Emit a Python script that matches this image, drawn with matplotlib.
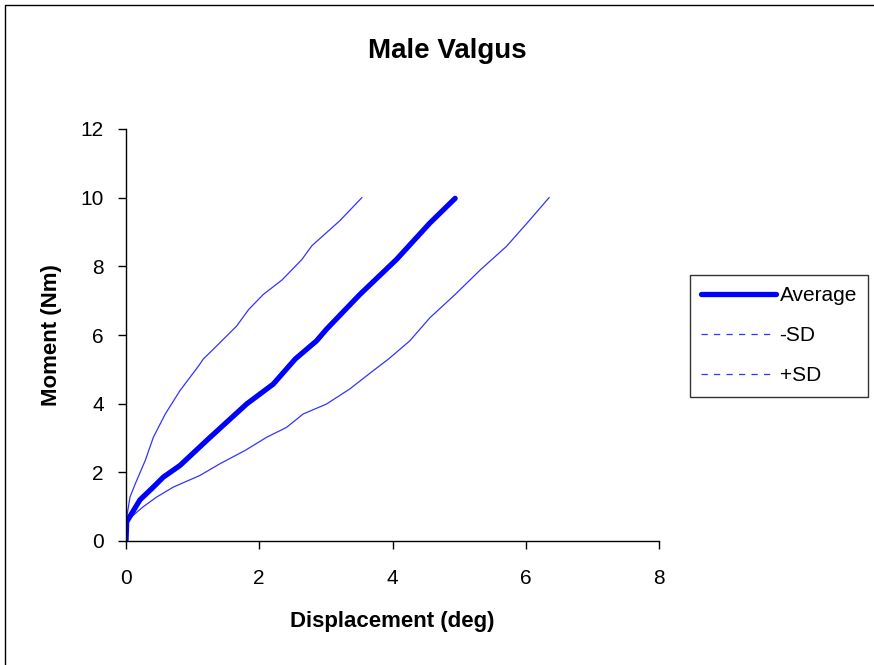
import matplotlib.pyplot as plt
from matplotlib.lines import Line2D
from matplotlib.patches import Rectangle

plt.rcParams['font.family'] = ['Liberation Sans', 'DejaVu Sans']

# curves (displacement deg, moment Nm)
avg_x = [0.0, 0.01, 0.085, 0.21, 0.41, 0.56, 0.81, 1.24, 1.81, 2.21, 2.54, 2.86,
         3.01, 3.51, 4.06, 4.56, 4.94]
avg_y = [0.0, 0.56, 0.8, 1.2, 1.57, 1.86, 2.2, 2.98, 3.99, 4.57, 5.3, 5.83,
         6.17, 7.18, 8.2, 9.26, 9.98]

minus_x = [0.0, 0.0, 0.02, 0.06, 0.14, 0.29, 0.41, 0.59, 0.81, 1.09, 1.16, 1.36,
           1.66, 1.84, 2.06, 2.34, 2.64, 2.79, 3.21, 3.54]
minus_y = [0.0, 0.56, 0.8, 1.28, 1.67, 2.35, 3.02, 3.7, 4.38, 5.1, 5.3, 5.68,
           6.26, 6.74, 7.18, 7.6, 8.2, 8.6, 9.33, 10.0]

plus_x = [0.0, 0.01, 0.085, 0.26, 0.46, 0.71, 1.11, 1.41, 1.79, 2.11, 2.41, 2.66,
          3.01, 3.36, 3.71, 3.94, 4.26, 4.56, 4.94, 5.32, 5.71, 6.02, 6.35]
plus_y = [0.0, 0.5, 0.71, 1.0, 1.28, 1.57, 1.91, 2.25, 2.64, 3.02, 3.31, 3.7,
          3.99, 4.43, 4.96, 5.3, 5.83, 6.5, 7.18, 7.9, 8.58, 9.26, 10.0]

fig = plt.figure(figsize=(8.74, 6.65), dpi=100)
ax = fig.add_axes([126/874, 1 - 541/665, 533/874, 412/665])

ax.plot(minus_x, minus_y, color='#3333ff', lw=0.9)
ax.plot(plus_x, plus_y, color='#3333ff', lw=0.9)
ax.plot(avg_x, avg_y, color='#0000ff', lw=3.8, solid_capstyle='round')

ax.set_xlim(0, 8)
ax.set_ylim(0, 12)
ax.set_xticks(range(0, 9, 2))
ax.set_yticks(range(0, 13, 2))
for s in ['top', 'right']:
    ax.spines[s].set_visible(False)
for s in ['left', 'bottom']:
    ax.spines[s].set_linewidth(1.0)
ax.tick_params(direction='out', length=6, width=1, labelsize=15)
ax.tick_params(axis='x', pad=14)
ax.tick_params(axis='y', pad=10)
ax.set_xlabel('Displacement (deg)', fontsize=16, fontweight='bold', labelpad=17)
ax.set_ylabel('Moment (Nm)', fontsize=16, fontweight='bold', labelpad=13)

fig.text(447/874, 1 - 51/665, 'Male Valgus', fontsize=20, fontweight='bold',
         ha='center', va='center')

handles = [Line2D([], [], color='#0000ff', lw=3.8, solid_capstyle='round'),
           Line2D([], [], color='#3333ff', lw=0.9, ls=(0, (5, 5))),
           Line2D([], [], color='#3333ff', lw=0.9, ls=(0, (5, 5)))]
leg = fig.legend(handles, ['Average', '-SD', '+SD'], loc='upper left',
                 bbox_to_anchor=(690/874, 1 - 275/665), fontsize=15,
                 frameon=True, fancybox=False, handlelength=3.6,
                 handletextpad=0.15, labelspacing=1.0, borderpad=0.55,
                 borderaxespad=0)
leg.get_frame().set_edgecolor('black')
leg.get_frame().set_linewidth(1.0)

fig.patches.append(Rectangle((5/874, -0.1), 1.2, 1 - 5/665 + 0.1,
                             transform=fig.transFigure, fill=False,
                             edgecolor='black', lw=1.0))

fig.savefig('out.png', dpi=100)
